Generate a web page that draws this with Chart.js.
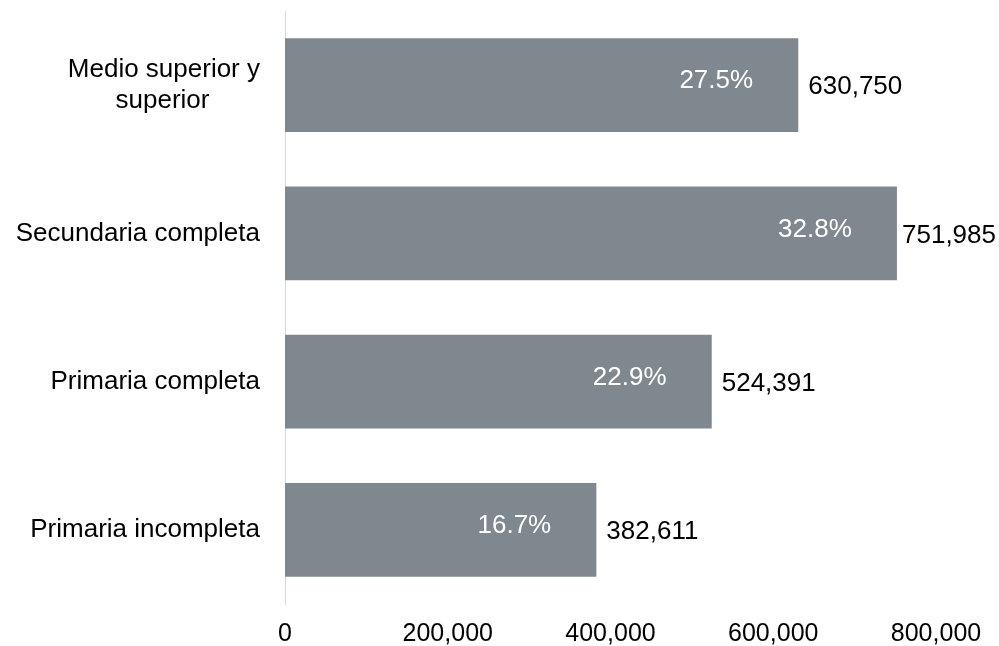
<!DOCTYPE html>
<html lang="es">
<head>
    <meta charset="UTF-8" />
    <title>Nivel educativo</title>
    <script src="https://cdn.jsdelivr.net/npm/chart.js"></script>
    <style>
      html, body { margin: 0; padding: 0; background: #fff; }
      #wrap { width: 999px; height: 646px; position: relative; }
    </style>
</head>
<body>
    <div id="wrap"><canvas id="chart"></canvas></div>

    <script>
      // data
      const categories = [
        ['Medio superior y', 'superior       '],
        'Secundaria completa',
        'Primaria completa',
        'Primaria incompleta'
      ];
      const totals = [630750, 751985, 524391, 382611];
      const percents = [27.5, 32.8, 22.9, 16.7];
      const xTicks = [0, 200000, 400000, 600000, 800000];

      const fontFam = '"Liberation Sans", Arial, sans-serif';

      // draws the % inside each bar and the total to its right
      const barLabels = {
        id: 'barLabels',
        afterDatasetsDraw(chart) {
          const c = chart.ctx;
          const meta = chart.getDatasetMeta(0);
          c.save();
          c.font = '26px ' + fontFam;
          c.textBaseline = 'middle';
          meta.data.forEach((bar, i) => {
            // percent, white, inside bar near the end
            c.fillStyle = '#ffffff';
            c.textAlign = 'center';
            c.fillText(percents[i].toFixed(1) + '%', bar.x - 82, bar.y - 4);

            // total, black, right of the bar
            const txt = totals[i].toLocaleString('en-US');
            const w = c.measureText(txt).width;
            let x = bar.x + 10;
            if (x + w > chart.width - 3) x = chart.width - 3 - w;
            c.fillStyle = '#000000';
            c.textAlign = 'left';
            c.fillText(txt, x, bar.y + 2);
          });
          c.restore();
        }
      };

      const ctx = document.getElementById('chart');
      const myChart = new Chart(ctx, {
        type: 'bar',
        data: {
          labels: categories,
          datasets: [{
            data: totals,
            backgroundColor: '#7f888e',
            borderWidth: 0,
            categoryPercentage: 1,
            barPercentage: 0.634
          }]
        },
        options: {
          indexAxis: 'y',
          responsive: true,
          maintainAspectRatio: false,
          animation: false,
          layout: { padding: { top: 11, right: 63, bottom: 0, left: 0 } },
          plugins: {
            legend: { display: false },
            tooltip: { enabled: false }
          },
          scales: {
            x: {
              min: 0,
              max: 800000,
              grid: { display: false },
              border: { display: false },
              afterBuildTicks: (axis) => { axis.ticks = xTicks.map(v => ({ value: v })); },
              afterFit: (axis) => { axis.height = 42; },
              ticks: {
                padding: 7,
                color: '#000',
                font: { family: fontFam, size: 25 },
                maxRotation: 0,
                callback: (v) => Number(v).toLocaleString('en-US')
              }
            },
            y: {
              grid: { display: false },
              border: { display: true, color: '#d9d9d9', width: 1 },
              afterFit: (axis) => {
                axis.width = 285;
                // labels sit inside the category bands, no extra room needed
                axis.paddingTop = 0;
                axis.paddingBottom = 0;
              },
              ticks: {
                padding: 17,
                color: '#000',
                font: { family: fontFam, size: 26, lineHeight: 1.2 }
              }
            }
          }
        },
        plugins: [barLabels]
      });
    </script>
</body>
</html>
